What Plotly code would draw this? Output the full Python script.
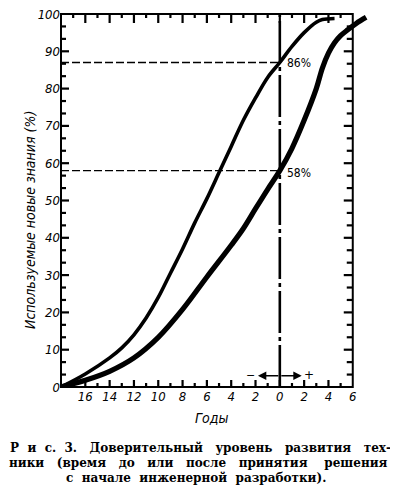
import plotly.graph_objects as go

# ---------------- data ----------------
curve1_x = [-18, -16, -14, -13, -12, -11, -10, -9, -8, -7, -6, -5, -4, -3, -2, -1, 0, 1, 2, 3, 3.5, 4.5]
curve1_y = [0, 3.5, 7.8, 10.5, 14, 18.5, 24, 30.5, 37, 44, 50.5, 57.5, 64.5, 71.5, 77.5, 83, 87, 91.3, 95, 97.8, 98.5, 98.8]

curve2_x = [-18, -16, -14, -12, -10, -8, -6, -4, -3, -2, -1, 0, 1, 2, 3, 3.5, 4, 4.5, 5, 5.6, 6.3, 7.1]
curve2_y = [0, 1.8, 4.2, 7.8, 13.3, 20.8, 29.5, 38, 42.5, 47.8, 53, 58, 64, 71.5, 80, 85.5, 89.5, 92.3, 94.2, 95.8, 97.5, 99.1]

level_hi = 87      # dashed reference line (labelled 86 %)
level_lo = 58
label_hi = "86%"
label_lo = "58%"

x_major = [-16, -14, -12, -10, -8, -6, -4, -2, 0, 2, 4, 6]
x_ticktext = ["16", "14", "12", "10", "8", "6", "4", "2", "0", "2", "4", "6"]
x_minor = [-17, -15, -13, -11, -9, -7, -5, -3, -1, 1, 3, 5]

y_major = [0, 10, 20, 30, 40, 50, 60, 70, 80, 90, 100]
y_ticktext = ["0", "10", "20", "30", "40", "50", "60", "70", "80", "90", "100"]
y_minor = [k * 10 / 3 for k in range(31) if k % 3]

y_title = "Используемые новые знания (%)"
x_title = "Годы"
NB = "\u00a0"
caption = [
    f"Р{NB*2}и{NB*2}с.{NB*2}3.{NB*3}Доверительный{NB*3}уровень{NB*3}развития{NB*3}тех-",
    f"ники{NB*3}(время{NB*3}до{NB*3}или{NB*3}после{NB*3}принятия{NB*4}решения",
    f"с{NB*2}начале{NB*2}инженерной{NB*2}разработки).",
]

# ---------------- layout constants ----------------
OFF = 8                       # default page (body) margin of the html page
W, H = 398 - OFF, 500 - OFF
ML, MR, MT, MB = 53, 27, 6, 113
XMIN, XMAX, XFRAME = -18, 7.5, 6
YMIN, YMAX = 0, 100
frame_px = (XFRAME - XMIN) / (XMAX - XMIN)   # paper fraction of right frame
PW = W - ML - MR
PH = H - MT - MB
KX = PW / (XMAX - XMIN)       # px per year
KY = PH / (YMAX - YMIN)       # px per percent


def px_x(px):                 # window px -> paper
    return (px - OFF - ML) / PW


def px_y(py):
    return (H - MB - (py - OFF)) / PH


tickfont = dict(family="DejaVu Sans Condensed", size=13, color="black")

fig = go.Figure()

# reference dashed lines
fig.add_trace(go.Scatter(x=[XMIN, 0], y=[level_hi, level_hi], mode="lines",
                         line=dict(color="black", width=1.4, dash="8px,3px"), hoverinfo="skip"))
fig.add_trace(go.Scatter(x=[XMIN, 0], y=[level_lo, level_lo], mode="lines",
                         line=dict(color="black", width=1.4, dash="8px,3px"), hoverinfo="skip"))
# vertical dash-dot decision line
fig.add_trace(go.Scatter(x=[0, 0], y=[YMIN, YMAX], mode="lines",
                         line=dict(color="black", width=2.6, dash="42px,4px,4px,4px"), hoverinfo="skip"))
# curves
fig.add_trace(go.Scatter(x=curve1_x, y=curve1_y, mode="lines", line_shape="spline",
                         line=dict(color="black", width=3.6, smoothing=1.0)))
fig.add_trace(go.Scatter(x=curve2_x, y=curve2_y, mode="lines", line_shape="spline",
                         line=dict(color="black", width=5.2, smoothing=1.0)))

fig.update_layout(
    width=W, height=H,
    margin=dict(l=ML, r=MR, t=MT, b=MB, autoexpand=False),
    paper_bgcolor="white", plot_bgcolor="white",
    showlegend=False,
    xaxis=dict(range=[XMIN, XMAX], showgrid=False, zeroline=False, showline=False,
               tickmode="array", tickvals=x_major,
               ticktext=[f"<i>{t}</i>" for t in x_ticktext], ticks="",
               automargin=False, tickfont=tickfont, fixedrange=True),
    yaxis=dict(range=[YMIN, YMAX], showgrid=False, zeroline=False, showline=False,
               tickmode="array", tickvals=y_major,
               ticktext=[f"<i>{t}</i>" for t in y_ticktext], ticks="",
               ticklabeloverflow="allow", automargin=False,
               tickfont=tickfont, fixedrange=True),
)

# tick marks as line shapes placed through the data axes
inner_y = [v for v in y_major if YMIN < v < YMAX]
tick_sets = [
    (x_major[:-1], "bottom", 7), (x_minor, "bottom", 4),
    (x_major[:-1], "top", 9), (x_minor, "top", 4),
    (inner_y, "left", 8), (y_minor, "left", 5),
    (inner_y, "right", 9), (y_minor, "right", 6),
]
for vals, side, ln in tick_sets:
    for v in vals:
        if side == "bottom":
            x0, x1, y0, y1 = v, v, YMIN, YMIN + ln / KY
        elif side == "top":
            x0, x1, y0, y1 = v, v, YMAX, YMAX - ln / KY
        elif side == "left":
            x0, x1, y0, y1 = XMIN, XMIN + ln / KX, v, v
        else:
            x0, x1, y0, y1 = XFRAME, XFRAME - ln / KX, v, v
        fig.add_shape(type="line", xref="x", yref="y", x0=x0, x1=x1, y0=y0, y1=y1,
                      line=dict(color="black", width=2.2), layer="above")

# frame (paper references, so it is not clipped)
fig.add_shape(type="rect", xref="paper", yref="paper", x0=0, x1=frame_px, y0=0, y1=1,
              line=dict(color="black", width=2), layer="above")

# level labels
for lv, txt in [(level_hi - 0.2, label_hi), (level_lo - 0.5, label_lo)]:
    fig.add_annotation(x=0.45, y=lv, text=txt, showarrow=False, xanchor="left", yanchor="middle",
                       font=dict(family="DejaVu Sans Condensed", size=12, color="black"))

# double arrow near the bottom
for tip in (-1.8, 1.8):
    fig.add_annotation(x=tip, y=3, ax=0, ay=3, axref="x", ayref="y", xref="x", yref="y",
                       text="", showarrow=True, arrowhead=2, arrowsize=1.2, arrowwidth=1.4,
                       arrowcolor="black")
fig.add_annotation(x=-2.45, y=3, text="−", showarrow=False, xanchor="center", yanchor="middle",
                   font=dict(family="DejaVu Sans", size=11, color="black"))
fig.add_annotation(x=2.4, y=3.2, text="+", showarrow=False, xanchor="center", yanchor="middle",
                   font=dict(family="DejaVu Sans", size=12, color="black"))

# axis titles
fig.add_annotation(xref="paper", yref="paper", x=px_x(30), y=px_y(220), text=f"<i>{y_title}</i>",
                   textangle=-90, showarrow=False, xanchor="center", yanchor="middle",
                   font=dict(family="DejaVu Sans Condensed", size=14, color="black"))
fig.add_annotation(xref="paper", yref="paper", x=px_x(211), y=px_y(418), text=f"<i>{x_title}</i>",
                   showarrow=False, xanchor="center", yanchor="middle",
                   font=dict(family="DejaVu Sans Condensed", size=14, color="black"))

# caption
for i, (line, cx) in enumerate(zip(caption, [200, 198, 196])):
    fig.add_annotation(xref="paper", yref="paper", x=px_x(cx), y=px_y(448 + 15 * i), text=line,
                       showarrow=False, xanchor="center", yanchor="middle",
                       font=dict(family="DejaVu Serif", size=12, color="black", weight="bold"))

fig.write_html("out.html")
